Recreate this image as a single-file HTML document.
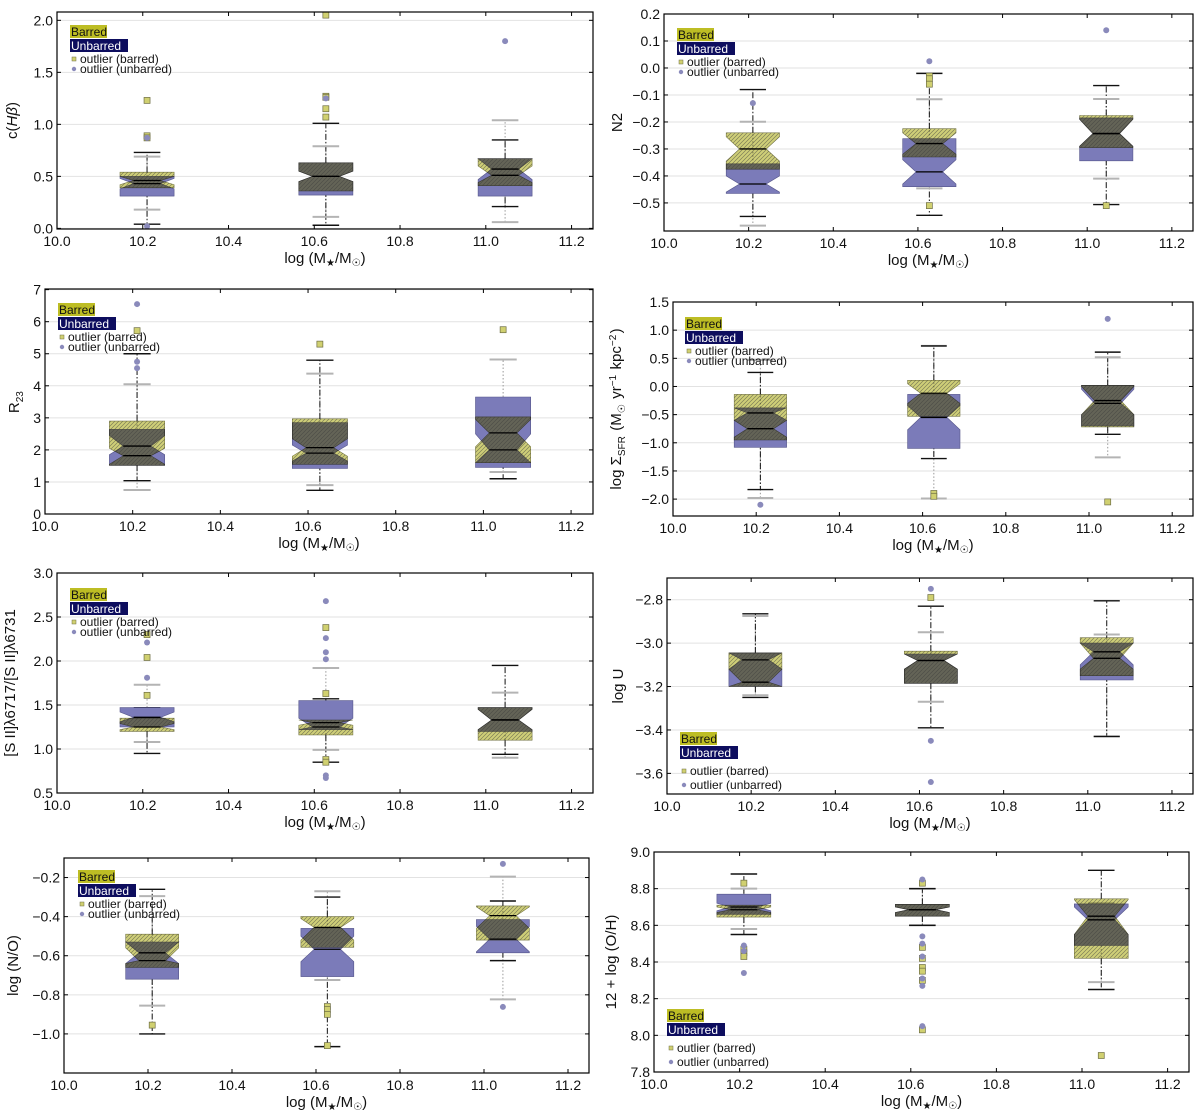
<!DOCTYPE html>
<html><head><meta charset="utf-8"><style>
html,body{margin:0;padding:0;background:#fff;}
svg{display:block;font-family:"Liberation Sans","DejaVu Sans",sans-serif;}
.blend{mix-blend-mode:multiply;}
</style></head><body>
<svg id="fig" width="1200" height="1117" viewBox="0 0 1200 1117" xmlns="http://www.w3.org/2000/svg">
<defs>
<pattern id="hatch" patternUnits="userSpaceOnUse" width="4" height="4">
<path d="M-1,1 L1,-1 M0,4 L4,0 M3,5 L5,3" stroke="#3a3a3a" stroke-width="0.7"/>
</pattern>
</defs>
</svg>
<script>
// shared categories
const groupX = [10.21, 10.627, 11.045];
const xTicks = [10.0, 10.2, 10.4, 10.6, 10.8, 11.0, 11.2];
const xTickLabels = ["10.0","10.2","10.4","10.6","10.8","11.0","11.2"];
// stats per group: [whiskLo, q1, notchLo, median, notchHi, q3, whiskHi]
const p1_b = [[0.04,0.39,0.42,0.46,0.50,0.54,0.73],[0.03,0.36,0.45,0.50,0.55,0.63,1.01],[0.21,0.41,0.44,0.51,0.60,0.67,0.85]];
const p1_u = [[0.18,0.31,0.38,0.43,0.48,0.50,0.69],[0.11,0.32,0.45,0.50,0.55,0.63,0.79],[0.06,0.31,0.47,0.57,0.67,0.67,1.04]];
const p1_bOut = [[1.23,0.89,0.87],[2.05,1.27,1.26,1.15,1.07],[]];
const p1_uOut = [[0.02,0.87],[1.25],[1.80]];
const p1_yTicks = [0.0,0.5,1.0,1.5,2.0];
const p1_yLabels = ["0.0","0.5","1.0","1.5","2.0"];

const p2_b = [[-0.55,-0.375,-0.345,-0.30,-0.255,-0.24,-0.08],[-0.546,-0.33,-0.32,-0.28,-0.24,-0.225,-0.02],[-0.506,-0.295,-0.29,-0.243,-0.19,-0.176,-0.065]];
const p2_u = [[-0.584,-0.465,-0.46,-0.43,-0.40,-0.355,-0.199],[-0.446,-0.44,-0.43,-0.385,-0.34,-0.262,-0.116],[-0.41,-0.344,-0.29,-0.243,-0.19,-0.185,-0.115]];
const p2_bOut = [[],[-0.03,-0.04,-0.06,-0.51],[-0.51]];
const p2_uOut = [[-0.13],[0.025],[0.14]];
const p2_yTicks = [0.2,0.1,0.0,-0.1,-0.2,-0.3,-0.4,-0.5];
const p2_yLabels = ["0.2","0.1","0.0","−0.1","−0.2","−0.3","−0.4","−0.5"];

const p3_b = [[1.04,1.52,1.55,1.82,2.05,2.90,5.0],[0.74,1.55,1.8,2.07,2.35,2.97,4.8],[1.10,1.6,2.1,2.53,2.95,3.03,3.44]];
const p3_u = [[0.75,1.52,1.85,2.12,2.45,2.64,4.05],[0.90,1.42,1.65,1.90,2.15,2.85,4.38],[1.31,1.45,1.6,2.0,2.5,3.65,4.82]];
const p3_bOut = [[5.72],[5.3],[5.75]];
const p3_uOut = [[6.55,4.75,4.55],[],[]];
const p3_yTicks = [0,1,2,3,4,5,6,7];
const p3_yLabels = ["0","1","2","3","4","5","6","7"];

const p4_b = [[-1.83,-0.95,-0.9,-0.75,-0.6,-0.14,0.25],[-1.28,-0.53,-0.3,-0.12,0.05,0.11,0.72],[-0.85,-0.72,-0.5,-0.25,0.0,0.02,0.61]];
const p4_u = [[-1.98,-1.08,-0.6,-0.47,-0.38,-0.38,0.47],[-1.99,-1.1,-0.77,-0.55,-0.34,-0.14,0.72],[-1.26,-0.70,-0.5,-0.30,-0.05,0.02,0.52]];
const p4_bOut = [[],[-1.9,-1.95],[-2.05]];
const p4_uOut = [[-2.1],[],[1.2]];
const p4_yTicks = [1.5,1.0,0.5,0.0,-0.5,-1.0,-1.5,-2.0];
const p4_yLabels = ["1.5","1.0","0.5","0.0","−0.5","−1.0","−1.5","−2.0"];

const p5_b = [[0.95,1.20,1.22,1.25,1.29,1.35,1.47],[0.85,1.16,1.27,1.30,1.33,1.33,1.57],[0.94,1.10,1.22,1.33,1.45,1.47,1.95]];
const p5_u = [[1.08,1.25,1.31,1.36,1.42,1.47,1.73],[0.99,1.22,1.22,1.25,1.35,1.55,1.92],[0.90,1.2,1.22,1.33,1.45,1.47,1.64]];
const p5_bOut = [[2.3,2.04,1.61],[2.38,1.63,0.88,0.85],[]];
const p5_uOut = [[2.21,1.81],[2.68,2.26,2.10,2.02,0.70,0.67],[]];
const p5_yTicks = [0.5,1.0,1.5,2.0,2.5,3.0];
const p5_yLabels = ["0.5","1.0","1.5","2.0","2.5","3.0"];

const p6_b = [[-3.25,-3.20,-3.20,-3.18,-3.12,-3.045,-2.865],[-3.39,-3.185,-3.12,-3.08,-3.05,-3.037,-2.83],[-3.43,-3.15,-3.12,-3.07,-3.0,-2.975,-2.805]];
const p6_u = [[-3.24,-3.20,-3.12,-3.077,-3.045,-3.045,-2.875],[-3.27,-3.185,-3.12,-3.08,-3.05,-3.05,-2.95],[-3.43,-3.17,-3.1,-3.04,-3.0,-3.0,-2.96]];
const p6_bOut = [[],[-2.79],[]];
const p6_uOut = [[],[-2.75,-3.45,-3.64],[]];
const p6_yTicks = [-2.8,-3.0,-3.2,-3.4,-3.6];
const p6_yLabels = ["−2.8","−3.0","−3.2","−3.4","−3.6"];

const p7_b = [[-1.0,-0.66,-0.64,-0.625,-0.56,-0.49,-0.26],[-1.065,-0.557,-0.52,-0.455,-0.41,-0.40,-0.30],[-0.625,-0.52,-0.46,-0.395,-0.35,-0.345,-0.32]];
const p7_u = [[-0.855,-0.72,-0.64,-0.585,-0.53,-0.53,-0.295],[-0.724,-0.707,-0.63,-0.567,-0.50,-0.46,-0.27],[-0.823,-0.585,-0.58,-0.515,-0.45,-0.415,-0.195]];
const p7_bOut = [[-0.955],[-0.86,-0.875,-0.9,-1.06],[]];
const p7_uOut = [[],[],[-0.13,-0.862]];
const p7_yTicks = [-0.2,-0.4,-0.6,-0.8,-1.0];
const p7_yLabels = ["−0.2","−0.4","−0.6","−0.8","−1.0"];

const p8_b = [[8.55,8.645,8.67,8.685,8.70,8.71,8.88],[8.60,8.65,8.67,8.685,8.70,8.715,8.80],[8.25,8.42,8.55,8.65,8.74,8.745,8.90]];
const p8_u = [[8.58,8.66,8.68,8.70,8.72,8.77,8.80],[8.60,8.65,8.67,8.685,8.70,8.715,8.80],[8.29,8.49,8.55,8.63,8.70,8.717,8.72]];
const p8_bOut = [[8.83,8.47,8.45,8.43],[8.83,8.48,8.42,8.37,8.35,8.30,8.03],[7.89]];
const p8_uOut = [[8.49,8.46,8.34],[8.85,8.54,8.50,8.43,8.31,8.27,8.05],[]];
const p8_yTicks = [7.8,8.0,8.2,8.4,8.6,8.8,9.0];
const p8_yLabels = ["7.8","8.0","8.2","8.4","8.6","8.8","9.0"];

const NS = "http://www.w3.org/2000/svg";
const svg = document.getElementById('fig');
function mk(tag, attrs, parent){
  const e = document.createElementNS(NS, tag);
  for (const k in attrs) e.setAttribute(k, attrs[k]);
  (parent||svg).appendChild(e);
  return e;
}

const panels = [
 {id:"chbeta", L:57,R:593,T:12,B:229, ymin:-0.006,ymax:2.08, yt:p1_yTicks, yl:p1_yLabels, b:p1_b,u:p1_u,bo:p1_bOut,uo:p1_uOut, lx:70, ly:25, yoff:40, ylab:["c(",["Hβ","it"],")"]},
 {id:"n2", L:664,R:1193,T:14,B:231, ymin:-0.604,ymax:0.2, yt:p2_yTicks, yl:p2_yLabels, b:p2_b,u:p2_u,bo:p2_bOut,uo:p2_uOut, lx:677, ly:28, yoff:42, ylab:["N2"]},
 {id:"r23", L:45,R:593,T:289,B:514, ymin:0,ymax:7.02, yt:p3_yTicks, yl:p3_yLabels, b:p3_b,u:p3_u,bo:p3_bOut,uo:p3_uOut, lx:58, ly:303, yoff:26, ylab:["R",["23","sub"]]},
 {id:"sigma-sfr", L:673,R:1193,T:302,B:516, ymin:-2.3,ymax:1.5, yt:p4_yTicks, yl:p4_yLabels, b:p4_b,u:p4_u,bo:p4_bOut,uo:p4_uOut, lx:685, ly:317, yoff:52, ylab:["log Σ",["SFR","sub"]," (M",["☉","sub"]," yr",["−1","sup"]," kpc",["−2","sup"],")"]},
 {id:"sii-ratio", L:57,R:593,T:573,B:793, ymin:0.5,ymax:3.0, yt:p5_yTicks, yl:p5_yLabels, b:p5_b,u:p5_u,bo:p5_bOut,uo:p5_uOut, lx:70, ly:588, yoff:42, ylab:["[S II]λ6717/[S II]λ6731"]},
 {id:"log-u", L:667,R:1193,T:578,B:794, ymin:-3.695,ymax:-2.70, yt:p6_yTicks, yl:p6_yLabels, b:p6_b,u:p6_u,bo:p6_bOut,uo:p6_uOut, lx:680, ly:732, yoff:44, ylab:["log U"], lgap:true},
 {id:"n-o", L:64,R:589,T:858,B:1073, ymin:-1.2,ymax:-0.1, yt:p7_yTicks, yl:p7_yLabels, b:p7_b,u:p7_u,bo:p7_bOut,uo:p7_uOut, lx:78, ly:870, yoff:46, ylab:["log (N/O)"]},
 {id:"o-h", L:654,R:1189,T:852,B:1072, ymin:7.8,ymax:9.0, yt:p8_yTicks, yl:p8_yLabels, b:p8_b,u:p8_u,bo:p8_bOut,uo:p8_uOut, lx:667, ly:1009, yoff:38, ylab:["12 + log (O/H)"], lgap:true}
];

function notchPts(sx, sy, x, s){
  const w = sx(x+0.063)-sx(x), c = sx(x);
  const q1=sy(s[1]), nl=sy(s[2]), md=sy(s[3]), nh=sy(s[4]), q3=sy(s[5]);
  return [[c-w,q1],[c+w,q1],[c+w,nl],[c+w/2,md],[c+w,nh],[c+w,q3],[c-w,q3],[c-w,nh],[c-w/2,md],[c-w,nl]]
    .map(p=>p[0].toFixed(1)+","+p[1].toFixed(1)).join(" ");
}

panels.forEach((P, pi) => {
  const g = mk('g', {});
  
  
  const sx = v => P.L + (v-10)/1.25*(P.R-P.L);
  const sy = v => P.B - (v-P.ymin)/(P.ymax-P.ymin)*(P.B-P.T);
  P.yt.forEach((t,i)=>{
    const y = sy(t);
    const gl = mk('line',{x1:P.L,x2:P.R,y1:y,y2:y,stroke:"#e2e2e2","stroke-width":1},g);
    
    
  });
  const clipId = 'clip'+pi;
  const cp = mk('clipPath',{id:clipId},svg.querySelector('defs'));
  mk('rect',{x:P.L,y:P.T,width:P.R-P.L,height:P.B-P.T},cp);
  const plot = mk('g',{'clip-path':'url(#'+clipId+')'},g);
  
  

  groupX.forEach((gx, gi) => {
    const cx = sx(gx), cw = sx(gx+0.031)-cx;
    const bs = P.b[gi], us = P.u[gi];
    const uw1 = mk('line',{x1:cx,x2:cx,y1:sy(us[5]),y2:sy(us[6]),stroke:"#999","stroke-width":1,"stroke-dasharray":"1.5,2"},plot);
    
    
    const uw2 = mk('line',{x1:cx,x2:cx,y1:sy(us[1]),y2:sy(us[0]),stroke:"#999","stroke-width":1,"stroke-dasharray":"1.5,2"},plot);
    
    
    const bw1 = mk('line',{x1:cx,x2:cx,y1:sy(bs[5]),y2:sy(bs[6]),stroke:"#111","stroke-width":1,"stroke-dasharray":"6,2,1.5,2"},plot);
    
    
    const bw2 = mk('line',{x1:cx,x2:cx,y1:sy(bs[1]),y2:sy(bs[0]),stroke:"#111","stroke-width":1,"stroke-dasharray":"6,2,1.5,2"},plot);
    
    
    [us[0],us[6]].forEach(v=>{
      const c = mk('line',{x1:cx-cw,x2:cx+cw,y1:sy(v),y2:sy(v),stroke:"#b4b4b4","stroke-width":2},plot);
      
      
    });
    [bs[0],bs[6]].forEach(v=>{
      const c = mk('line',{x1:cx-cw,x2:cx+cw,y1:sy(v),y2:sy(v),stroke:"#111","stroke-width":1.4},plot);
      
      
    });
    const ub = mk('polygon',{points:notchPts(sx,sy,gx,us),fill:"#7b7bb9",stroke:"#55558a","stroke-width":0.6},plot);
    
    
    const bb = mk('polygon',{points:notchPts(sx,sy,gx,bs),fill:"#cfcf78",class:"blend",stroke:"#777744","stroke-width":0.6},plot);
    
    
    const bh = mk('polygon',{points:notchPts(sx,sy,gx,bs),fill:"url(#hatch)",opacity:0.55},plot);
    
    
    const w2 = (sx(gx+0.063)-cx)/2;
    [us[3],bs[3]].forEach((v,k)=>{
      const m = mk('line',{x1:cx-w2,x2:cx+w2,y1:sy(v),y2:sy(v),stroke:"#000","stroke-width":1.3},plot);
      
      
    });
    P.bo[gi].forEach(v=>{
      const o = mk('rect',{x:cx-3,y:sy(v)-3,width:6,height:6,fill:"#d0d070",stroke:"#6e6e44","stroke-width":0.7},plot);
      
      
    });
    P.uo[gi].forEach(v=>{
      const o = mk('circle',{cx:cx,cy:sy(v),r:3,fill:"#8a8abb"},plot);
      
      
    });
  });

  const fr = mk('rect',{x:P.L,y:P.T,width:P.R-P.L,height:P.B-P.T,fill:"none",stroke:"#000","stroke-width":1.2},g);
  
  
  xTicks.forEach((t,i)=>{
    const x = sx(t);
    mk('line',{x1:x,x2:x,y1:P.B,y2:P.B-4,stroke:"#000","stroke-width":1},g);
    mk('line',{x1:x,x2:x,y1:P.T,y2:P.T+4,stroke:"#000","stroke-width":1},g);
    const tl = mk('text',{x:x,y:P.B+17,"text-anchor":"middle","font-size":14,fill:"#111"},g);
    tl.textContent = xTickLabels[i];
    
    
  });
  P.yt.forEach((t,i)=>{
    const y = sy(t);
    mk('line',{x1:P.L,x2:P.L+4,y1:y,y2:y,stroke:"#000","stroke-width":1},g);
    mk('line',{x1:P.R,x2:P.R-4,y1:y,y2:y,stroke:"#000","stroke-width":1},g);
    const tl = mk('text',{x:P.L-4,y:y+5,"text-anchor":"end","font-size":14,fill:"#111"},g);
    tl.textContent = P.yl[i];
    
    
  });
  const xl = mk('text',{x:(P.L+P.R)/2,y:P.B+34,"text-anchor":"middle","font-size":15,fill:"#111"},g);
  
  
  xl.appendChild(document.createTextNode("log (M"));
  const s1 = mk('tspan',{"font-size":10,dy:3},xl); s1.textContent="★";
  const s2 = mk('tspan',{dy:-3},xl); s2.textContent="/M";
  const s3 = mk('tspan',{"font-size":10,dy:3},xl); s3.textContent="☉";
  const s4 = mk('tspan',{dy:-3},xl); s4.textContent=")";
  const yx = P.L-P.yoff, yy = (P.T+P.B)/2;
  const yl = mk('text',{x:yx,y:yy,"text-anchor":"middle","font-size":15,fill:"#111",transform:`rotate(-90 ${yx} ${yy})`},g);
  
  
  P.ylab.forEach(part=>{
    if (typeof part === 'string'){ const t = mk('tspan',{},yl); t.textContent = part; }
    else {
      const kind = part[1];
      if (kind==='it'){ const t = mk('tspan',{"font-style":"italic"},yl); t.textContent=part[0]; }
      else {
        const d = kind==='sub'?4:-5;
        const t = mk('tspan',{"font-size":10,dy:d},yl); t.textContent=part[0];
        const r = mk('tspan',{dy:-d},yl); r.textContent="\u200a";
      }
    }
  });
  const lg = mk('g',{},g);
  
  
  mk('rect',{x:P.lx,y:P.ly,width:37,height:13,fill:"#bdbd24"},lg);
  const t1 = mk('text',{x:P.lx+1,y:P.ly+11,"font-size":12,fill:"#111"},lg); t1.textContent="Barred";
  
  
  mk('rect',{x:P.lx,y:P.ly+14,width:58,height:13,fill:"#0d0d5e"},lg);
  const t2 = mk('text',{x:P.lx+1,y:P.ly+25,"font-size":12,fill:"#fff"},lg); t2.textContent="Unbarred";
  
  
  const o1y = P.ly + (P.lgap? 43 : 38), o2y = o1y + (P.lgap? 14 : 10);
  mk('rect',{x:P.lx+2,y:o1y-6,width:4,height:4,fill:"#d0d070",stroke:"#6e6e44","stroke-width":0.5},lg);
  const t3 = mk('text',{x:P.lx+10,y:o1y,"font-size":12,fill:"#111"},lg); t3.textContent="outlier (barred)";
  
  
  mk('circle',{cx:P.lx+4,cy:o2y-4,r:2.2,fill:"#8a8abb"},lg);
  const t4 = mk('text',{x:P.lx+10,y:o2y,"font-size":12,fill:"#111"},lg); t4.textContent="outlier (unbarred)";
  
  
});
</script>
</body></html>
